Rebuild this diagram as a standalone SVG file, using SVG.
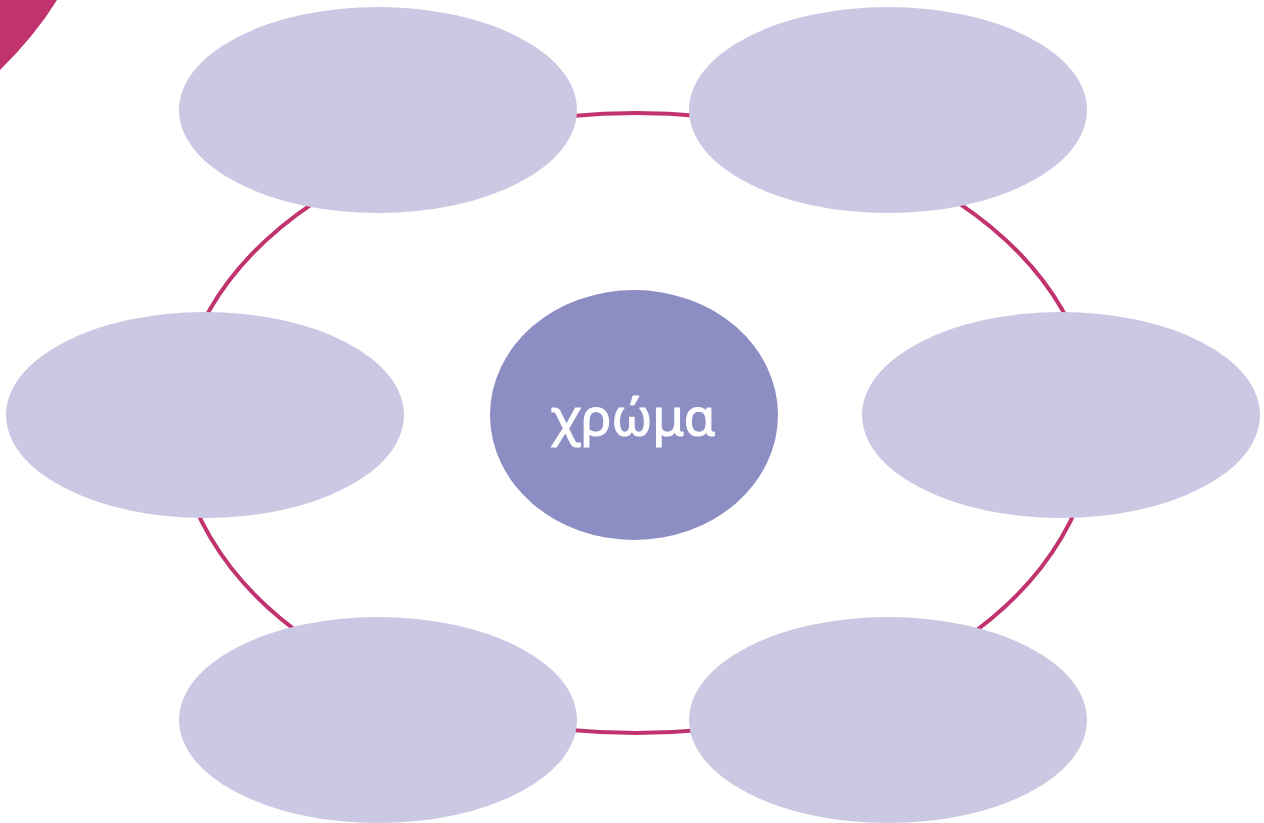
<svg xmlns="http://www.w3.org/2000/svg" width="1264" height="823" viewBox="0 0 1264 823">
<style>
.sat{fill:#CBC8E3}
.ring{fill:none;stroke:#C0336E;stroke-width:4}
.lbl{font-family:"Noto Sans","DejaVu Sans",sans-serif;font-size:51px;fill:#FFFFFF;stroke:#FFFFFF;stroke-width:1.2;stroke-linejoin:round;text-anchor:middle}
</style>
<rect width="1264" height="823" fill="#FFFFFF"/>
<path d="M0,0 L57,0 Q35.5,35 0,70 Z" fill="#C0336E"/>
<g id="connectors">
<ellipse class="ring" cx="636" cy="423" rx="458" ry="310"/>
</g>
<g id="node-top-left"><ellipse class="sat" cx="378" cy="110" rx="199" ry="103"/></g>
<g id="node-top-right"><ellipse class="sat" cx="888" cy="110" rx="199" ry="103"/></g>
<g id="node-mid-left"><ellipse class="sat" cx="205" cy="415" rx="199" ry="103"/></g>
<g id="node-mid-right"><ellipse class="sat" cx="1061" cy="415" rx="199" ry="103"/></g>
<g id="node-bottom-left"><ellipse class="sat" cx="378" cy="720" rx="199" ry="103"/></g>
<g id="node-bottom-right"><ellipse class="sat" cx="888" cy="720" rx="199" ry="103"/></g>
<g id="node-center">
<ellipse cx="634" cy="415" rx="144" ry="125" fill="#8C8DC3"/>
<text class="lbl" x="633" y="435">χρώμα</text>
</g>
</svg>
